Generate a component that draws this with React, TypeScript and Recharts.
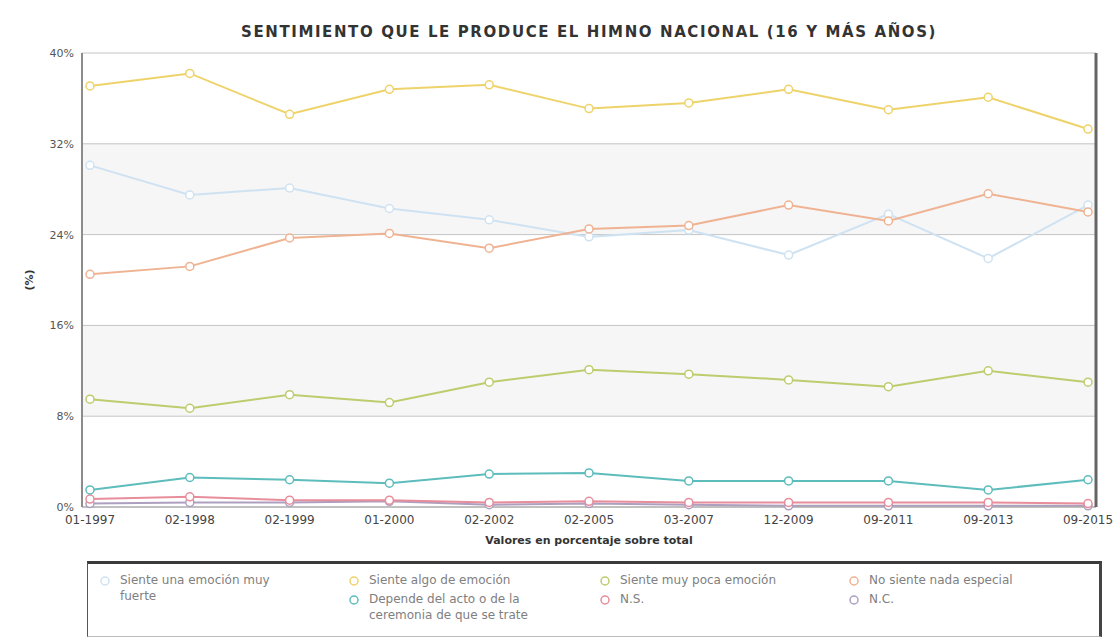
import React from 'react';
import { LineChart, Line, XAxis, YAxis, CartesianGrid } from 'recharts';

const periods = ['01-1997', '02-1998', '02-1999', '01-2000', '02-2002', '02-2005', '03-2007', '12-2009', '09-2011', '09-2013', '09-2015'];

const muyFuerte = [30.1, 27.5, 28.1, 26.3, 25.3, 23.8, 24.4, 22.2, 25.8, 21.9, 26.6];
const algo = [37.1, 38.2, 34.6, 36.8, 37.2, 35.1, 35.6, 36.8, 35.0, 36.1, 33.3];
const pocaEmocion = [9.5, 8.7, 9.9, 9.2, 11.0, 12.1, 11.7, 11.2, 10.6, 12.0, 11.0];
const nadaEspecial = [20.5, 21.2, 23.7, 24.1, 22.8, 24.5, 24.8, 26.6, 25.2, 27.6, 26.0];
const depende = [1.5, 2.6, 2.4, 2.1, 2.9, 3.0, 2.3, 2.3, 2.3, 1.5, 2.4];
const ns = [0.7, 0.9, 0.6, 0.6, 0.4, 0.5, 0.4, 0.4, 0.4, 0.4, 0.3];
const nc = [0.3, 0.4, 0.4, 0.5, 0.2, 0.3, 0.2, 0.1, 0.1, 0.1, 0.1];

const yTicks = [0, 8, 16, 24, 32, 40];

const series = [
  { key: 'muyFuerte', name: 'Siente una emoción muy fuerte', color: '#cfe2f2', values: muyFuerte, col: 1, row: '1 / span 2' },
  { key: 'algo', name: 'Siente algo de emoción', color: '#eed36a', values: algo, col: 2, row: '1' },
  { key: 'pocaEmocion', name: 'Siente muy poca emoción', color: '#bccd6e', values: pocaEmocion, col: 3, row: '1' },
  { key: 'nadaEspecial', name: 'No siente nada especial', color: '#efb393', values: nadaEspecial, col: 4, row: '1' },
  { key: 'depende', name: 'Depende del acto o de la ceremonia de que se trate', color: '#5dbcbc', values: depende, col: 2, row: '2' },
  { key: 'ns', name: 'N.S.', color: '#e88d9b', values: ns, col: 3, row: '2' },
  { key: 'nc', name: 'N.C.', color: '#ad9fbf', values: nc, col: 4, row: '2' },
];

const data = periods.map((p, i) => {
  const row: Record<string, any> = { periodo: p };
  series.forEach((s) => { row[s.key] = s.values[i]; });
  return row;
});

const font = '"DejaVu Sans", Verdana, sans-serif';

// lines drawn back to front
const drawOrder = ['nc', 'ns', 'depende', 'pocaEmocion', 'muyFuerte', 'nadaEspecial', 'algo'];

export default function App() {
  return (
    <div style={{ position: 'absolute', left: 0, top: 0, width: 1118, height: 641, background: '#fff', fontFamily: font }}>
      <div style={{ position: 'absolute', top: 23, left: 0, width: 1178, textAlign: 'center', fontSize: 15, letterSpacing: 1.6, fontWeight: 'bold', color: '#333' }}>
        SENTIMIENTO QUE LE PRODUCE EL HIMNO NACIONAL (16 Y MÁS AÑOS)
      </div>
      <div style={{ position: 'absolute', left: 0, top: 0 }}>
        <LineChart width={1118} height={560} data={data} margin={{ top: 53, right: 21, left: 0, bottom: 20 }}>
          <CartesianGrid vertical={false} stroke="#c4c4c4" horizontalFill={['#ffffff', '#f6f6f6']} fillOpacity={1} />
          <XAxis
            dataKey="periodo"
            padding={{ left: 8, right: 8 }}
            tickLine={false}
            axisLine={{ stroke: '#a0a0a0', strokeWidth: 1 }}
            tick={{ fontSize: 12, fill: '#444', fontFamily: font }}
            tickMargin={2}
            interval={0}
            height={33}
            label={{ value: 'Valores en porcentaje sobre total', position: 'insideBottom', offset: -4, style: { fontSize: 11, fontWeight: 'bold', fill: '#333', fontFamily: font } }}
          />
          <YAxis
            domain={[0, 40]}
            ticks={yTicks}
            tickFormatter={(v) => `${v}%`}
            width={82}
            tickLine={false}
            axisLine={{ stroke: '#8c8c8c', strokeWidth: 2 }}
            tick={{ fontSize: 11, fill: '#555', fontFamily: font }}
            label={{ value: '(%)', angle: -90, position: 'insideLeft', offset: 29, style: { fontSize: 11, fontWeight: 'bold', fill: '#333', fontFamily: font, textAnchor: 'middle' } }}
          />
          <YAxis
            yAxisId="frame"
            orientation="right"
            domain={[0, 40]}
            ticks={yTicks}
            width={1}
            tick={false}
            tickLine={false}
            axisLine={{ stroke: '#666', strokeWidth: 3 }}
          />
          {drawOrder.map((k) => {
            const s = series.find((x) => x.key === k)!;
            return (
              <Line
                key={s.key}
                type="linear"
                dataKey={s.key}
                name={s.name}
                stroke={s.color}
                strokeWidth={2}
                dot={{ r: 4, fill: '#fff', stroke: s.color, strokeWidth: 1.5 }}
                isAnimationActive={false}
              />
            );
          })}
        </LineChart>
      </div>
      <div
        style={{
          position: 'absolute',
          left: 87,
          top: 561,
          width: 1015,
          height: 76,
          borderTop: '3px solid #3a3a3a',
          borderLeft: '1px solid #555',
          borderRight: '3px solid #444',
          borderBottom: '1px solid #bbb',
          boxSizing: 'border-box',
          display: 'grid',
          gridTemplateColumns: '249px 251px 249px 1fr',
          gridTemplateRows: '19px 19px 19px',
          padding: '8px 0 0 10px',
          fontSize: 12,
          color: '#808080',
        }}
      >
        {series.map((s) => (
          <div key={s.key} style={{ gridColumn: s.col, gridRow: s.row, display: 'flex', alignItems: 'flex-start', lineHeight: '16px' }}>
            <svg width={14} height={14} style={{ flex: 'none', marginRight: 8, marginTop: 2 }}>
              <circle cx={7} cy={7} r={4} fill="#fff" stroke={s.color} strokeWidth={1.5} />
            </svg>
            <span style={{ width: 175 }}>{s.name}</span>
          </div>
        ))}
      </div>
    </div>
  );
}
